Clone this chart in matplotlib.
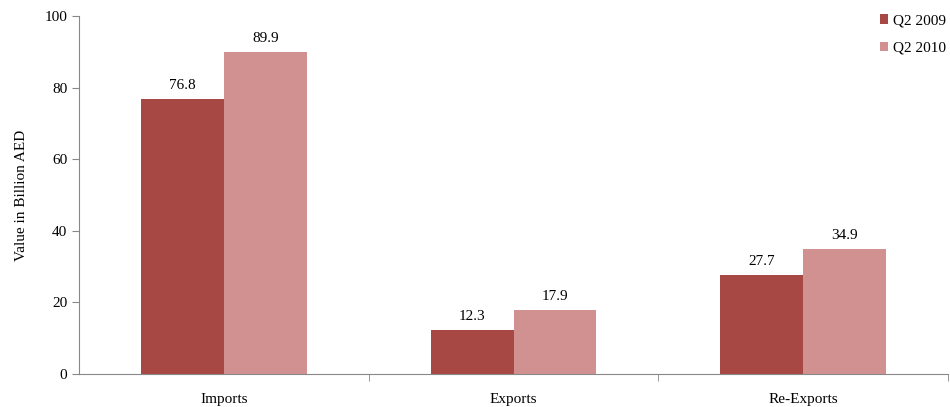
import matplotlib.pyplot as plt
import numpy as np

categories = ['Imports', 'Exports', 'Re-Exports']
q2_2009 = [76.8, 12.3, 27.7]
q2_2010 = [89.9, 17.9, 34.9]
series_labels = ['Q2 2009', 'Q2 2010']
colors = ['#A84844', '#D29191']

plt.rcParams['font.family'] = ['Liberation Serif', 'DejaVu Serif']

fig = plt.figure(figsize=(9.5, 4.07), dpi=100)
ax = fig.add_axes([0.0832, 0.081, 0.9148, 0.8797])

x = np.arange(len(categories))
w = 0.286
b1 = ax.bar(x - w / 2, q2_2009, w, color=colors[0], label=series_labels[0])
b2 = ax.bar(x + w / 2, q2_2010, w, color=colors[1], label=series_labels[1])

for bars, vals in [(b1, q2_2009), (b2, q2_2010)]:
    for bar, v in zip(bars, vals):
        ax.text(bar.get_x() + bar.get_width() / 2, v + 2, f'{v:.1f}',
                ha='center', va='bottom', fontsize=11)

ax.set_xlim(-0.5, 2.5)
ax.set_ylim(0, 100)
ax.set_yticks(range(0, 101, 20))
ax.set_xticks(x)
ax.set_xticklabels(categories, fontsize=11)
ax.set_xticks([0.5, 1.5, 2.5], minor=True)
ax.tick_params(axis='x', which='major', length=0, pad=14)
ax.tick_params(axis='x', which='minor', length=5, color='#888888', direction='out')
ax.tick_params(axis='y', length=5, color='#888888', labelsize=11)
ax.set_ylabel('Value in Billion AED', fontsize=11, labelpad=12)

for s in ['top', 'right']:
    ax.spines[s].set_visible(False)
for s in ['left', 'bottom']:
    ax.spines[s].set_color('#888888')

ax.legend(loc='upper right', bbox_to_anchor=(1.013, 1.043), frameon=False,
          fontsize=11, handlelength=0.55, handleheight=0.55, handletextpad=0.3,
          labelspacing=0.95)

fig.savefig('out.png', dpi=100)
